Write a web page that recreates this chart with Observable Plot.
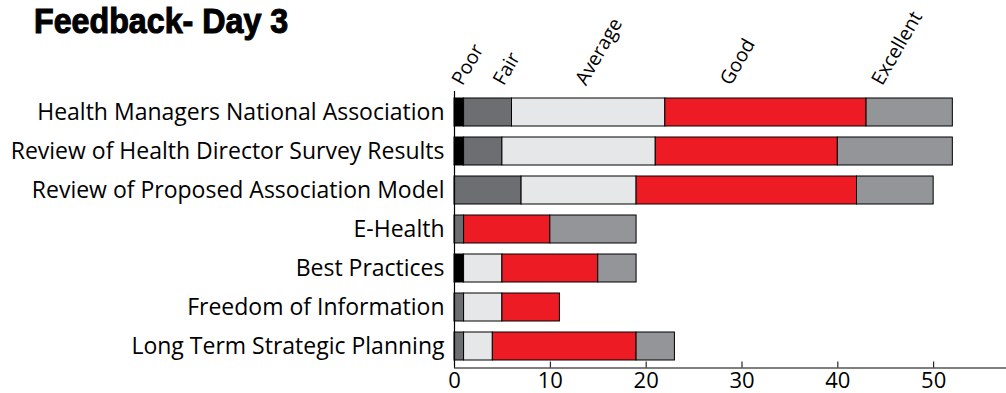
<!DOCTYPE html>
<html>
<head>
<meta charset="utf-8">
<script src="https://cdn.jsdelivr.net/npm/d3@7"></script>
<script src="https://cdn.jsdelivr.net/npm/@observablehq/plot@0.6"></script>
<style>
  html, body { margin: 0; padding: 0; background: #fff; }
  #wrap { position: relative; width: 1006px; height: 393px; overflow: hidden; }
  #title {
    position: absolute; left: 34px; top: 1px;
    font-family: "Liberation Sans", Arial, sans-serif;
    font-weight: bold; font-size: 35px; line-height: 39px; color: #000;
    white-space: nowrap; transform: scaleX(0.92); transform-origin: 0 0;
    -webkit-text-stroke: 1.1px #000;
  }
</style>
</head>
<body>
<div id="wrap">
  <div id="chart"></div>
  <div id="title">Feedback- Day 3</div>
</div>
<script>
const topics = [
  "Health Managers National Association",
  "Review of Health Director Survey Results",
  "Review of Proposed Association Model",
  "E-Health",
  "Best Practices",
  "Freedom of Information",
  "Long Term Strategic Planning"
];
const ratings = ["Poor", "Fair", "Average", "Good", "Excellent"];
const poor      = [1, 1, 0, 0, 1, 0, 0];
const fair      = [5, 4, 7, 1, 0, 1, 1];
const average   = [16, 16, 12, 0, 4, 4, 3];
const good      = [21, 19, 23, 9, 10, 6, 15];
const excellent = [9, 12, 8, 9, 4, 0, 4];
const ratingLabelAt = [0.2, 4.5, 13.1, 28.2, 44.0];
const xTicks = [0, 10, 20, 30, 40, 50];
const colors = ["#000000", "#6d6e71", "#e6e7e8", "#ed1c24", "#939598"];

const series = [poor, fair, average, good, excellent];
const rows = [];
topics.forEach((t, i) => {
  ratings.forEach((r, j) => {
    rows.push({topic: t, rating: r, value: series[j][i]});
  });
});
const labels = ratings.map((r, j) => ({rating: r, at: ratingLabelAt[j]}));

const font = "'Open Sans', 'Noto Sans', sans-serif";

const chart = Plot.plot({
  width: 1006,
  height: 393,
  marginTop: 91,
  marginBottom: 25.5,
  marginLeft: 454,
  marginRight: 0,
  style: {fontFamily: font, fontSize: "23px", color: "#000", background: "transparent", overflow: "visible"},
  x: {domain: [0, 57.6], label: null, ticks: xTicks, tickSize: -6, tickPadding: 10, tickFormat: d => d, line: true},
  y: {domain: topics, paddingInner: 0.27, paddingOuter: 0.135, label: null, tickSize: 0, tickPadding: 10},
  color: {domain: ratings, range: colors},
  marks: [
    Plot.barX(rows.filter(d => d.value > 0), Plot.stackX({
      y: "topic", x: "value", fill: "rating", order: ratings,
      stroke: "#000", strokeWidth: 1
    })),
    Plot.ruleX([0], {stroke: "#000", strokeWidth: 1.2}),
    Plot.text(labels, {
      x: "at", frameAnchor: "top", text: "rating", rotate: -60,
      textAnchor: "start", lineAnchor: "bottom", dx: 6, dy: -5, fontSize: 19.5, fill: "#000"
    })
  ]
});
chart.querySelectorAll("[aria-label='x-axis tick label'] text").forEach(t => t.setAttribute("font-size", "22"));
document.getElementById("chart").appendChild(chart);
</script>
</body>
</html>
